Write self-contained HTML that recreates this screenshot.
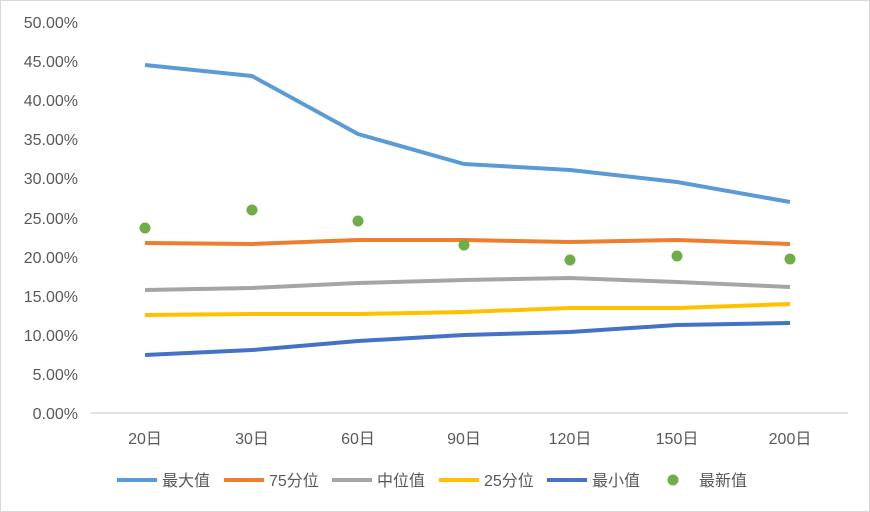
<!DOCTYPE html>
<html><head><meta charset="utf-8"><style>
body{margin:0;background:#fff}
svg{display:block}
text{font-family:"Liberation Sans","Noto Sans CJK SC",sans-serif;fill:#595959;font-size:16px}
</style></head><body>
<svg width="870" height="512" viewBox="0 0 870 512">
<rect x="0.5" y="0.5" width="869" height="511" fill="#fff" stroke="#d9d9d9"/>
<line x1="91" y1="413" x2="848" y2="413" stroke="#d9d9d9" stroke-width="1.5"/>
<g text-anchor="end">
<text x="78" y="419">0.00%</text><text x="78" y="380">5.00%</text><text x="78" y="341">10.00%</text><text x="78" y="302">15.00%</text><text x="78" y="263">20.00%</text><text x="78" y="224">25.00%</text><text x="78" y="184">30.00%</text><text x="78" y="145">35.00%</text><text x="78" y="106">40.00%</text><text x="78" y="67">45.00%</text><text x="78" y="28">50.00%</text>
</g>
<g text-anchor="middle">
<text x="145" y="444">20日</text><text x="252" y="444">30日</text><text x="358" y="444">60日</text><text x="464" y="444">90日</text><text x="570" y="444">120日</text><text x="677" y="444">150日</text><text x="790" y="444">200日</text>
</g>
<g fill="none" stroke-width="4" stroke-linejoin="round">
<polyline stroke="#5B9BD5" points="145,65 252,76 358,134 464,164 570,170 677,182 790,202"/>
<polyline stroke="#ED7D31" points="145,243 252,244 358,240 464,240 570,242 677,240 790,244"/>
<polyline stroke="#A5A5A5" points="145,290 252,288 358,283 464,280 570,278 677,282 790,287"/>
<polyline stroke="#FFC000" points="145,315 252,314 358,314 464,312 570,308 677,308 790,304"/>
<polyline stroke="#4472C4" points="145,355 252,350 358,341 464,335 570,332 677,325 790,323"/>
</g>
<g fill="#70AD47">
<circle cx="145" cy="228" r="5.5"/><circle cx="252" cy="210" r="5.5"/><circle cx="358" cy="221" r="5.5"/><circle cx="464" cy="245" r="5.5"/><circle cx="570" cy="260" r="5.5"/><circle cx="677" cy="256" r="5.5"/><circle cx="790" cy="259" r="5.5"/>
</g>
<g stroke-width="4">
<line x1="117" y1="480" x2="157" y2="480" stroke="#5B9BD5"/>
<line x1="224" y1="480" x2="264" y2="480" stroke="#ED7D31"/>
<line x1="332" y1="480" x2="372" y2="480" stroke="#A5A5A5"/>
<line x1="439" y1="480" x2="479" y2="480" stroke="#FFC000"/>
<line x1="547" y1="480" x2="587" y2="480" stroke="#4472C4"/>
</g>
<circle cx="673" cy="480" r="5.5" fill="#70AD47"/>
<text x="162" y="486">最大值</text>
<text x="269" y="486">75分位</text>
<text x="377" y="486">中位值</text>
<text x="484" y="486">25分位</text>
<text x="592" y="486">最小值</text>
<text x="699" y="486">最新值</text>
</svg>
</body></html>
